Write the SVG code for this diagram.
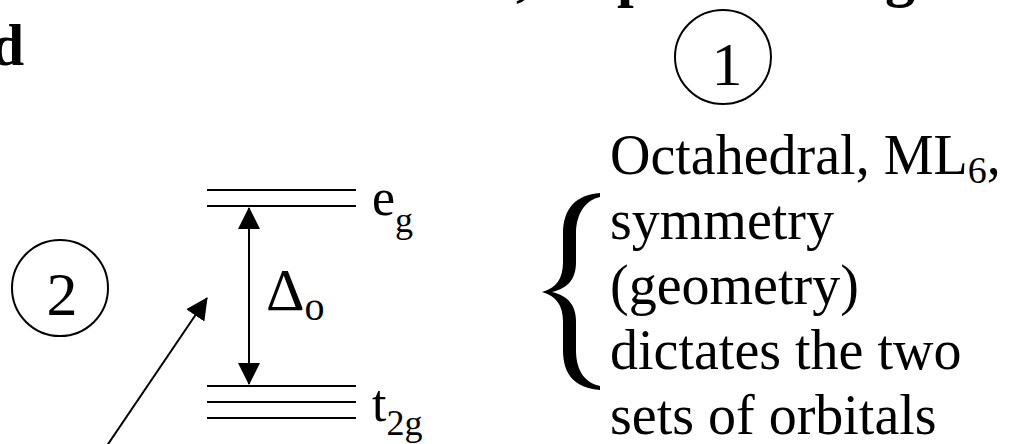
<svg xmlns="http://www.w3.org/2000/svg" width="1018" height="444" viewBox="0 0 1018 444">
  <style>
    text { font-family: "Liberation Serif", "Times New Roman", serif; fill: #000; }
    .bold { font-weight: bold; font-size: 60px; }
    .body { font-size: 56px; }
    .lvl { stroke: #000; stroke-width: 2; fill: none; }
    .circ { stroke: #000; stroke-width: 2; fill: none; }
    .conn { stroke: #000; stroke-width: 2; fill: none; }
  </style>
  <defs>
    <marker id="ah" viewBox="0 0 22 22" refX="21" refY="11" markerWidth="22" markerHeight="22" markerUnits="userSpaceOnUse" orient="auto-start-reverse">
      <path d="M0,0 L22,11 L0,22 Z" fill="#000"/>
    </marker>
  </defs>
  <rect width="1018" height="444" fill="#fff"/>

  <g id="title-fragments">
    <text class="bold" x="24" y="65" text-anchor="end">d</text>
    <text class="bold" x="516" y="-5">,</text>
    <text class="bold" x="617" y="-5">p</text>
    <text class="bold" x="885" y="-5">g</text>
  </g>

  <g id="circle1">
    <ellipse class="circ" cx="723" cy="57" rx="48" ry="47"/>
    <text x="727" y="85" font-size="62" text-anchor="middle">1</text>
  </g>

  <g id="circle2">
    <ellipse class="circ" cx="60" cy="288" rx="48" ry="48"/>
    <text x="62" y="315" font-size="62" text-anchor="middle">2</text>
  </g>

  <g id="eg-level">
    <line class="lvl" x1="207" y1="190" x2="356" y2="190"/>
    <line class="lvl" x1="207" y1="206" x2="356" y2="206"/>
    <text x="372" y="215" font-size="52">e<tspan font-size="36" dy="17">g</tspan></text>
  </g>

  <g id="t2g-level">
    <line class="lvl" x1="207" y1="386" x2="356" y2="386"/>
    <line class="lvl" x1="207" y1="402" x2="356" y2="402"/>
    <line class="lvl" x1="207" y1="418" x2="356" y2="418"/>
    <text x="372" y="421" font-size="52">t<tspan font-size="36" dy="14">2g</tspan></text>
  </g>

  <g id="delta-label">
    <text x="266" y="310" font-size="60">Δ<tspan font-size="40" dy="10">o</tspan></text>
  </g>

  <g id="description">
    <path d="M600,193 C576,195 563,208 563,234 L563,262 C563,279 556,288 542,292 C556,296 563,305 563,322 L563,350 C563,376 576,388 600,390 L600,386 C586,383 576,372 576,350 L576,322 C576,305 568,296 552,292 C568,288 576,279 576,262 L576,234 C576,213 586,200 600,197 Z" fill="#000"/>
    <text class="body" x="610" y="174">Octahedral, ML<tspan font-size="38" dy="9">6</tspan><tspan dy="-9">,</tspan></text>
    <text class="body" x="610" y="239">symmetry</text>
    <text class="body" x="610" y="304">(geometry)</text>
    <text class="body" x="610" y="369">dictates the two</text>
    <text class="body" x="610" y="434">sets of orbitals</text>
  </g>

  <g id="connectors">
    <line class="conn" x1="249" y1="208" x2="249" y2="384" marker-start="url(#ah)" marker-end="url(#ah)"/>
    <line class="conn" x1="100" y1="456" x2="207" y2="298" marker-end="url(#ah)"/>
  </g>
</svg>
